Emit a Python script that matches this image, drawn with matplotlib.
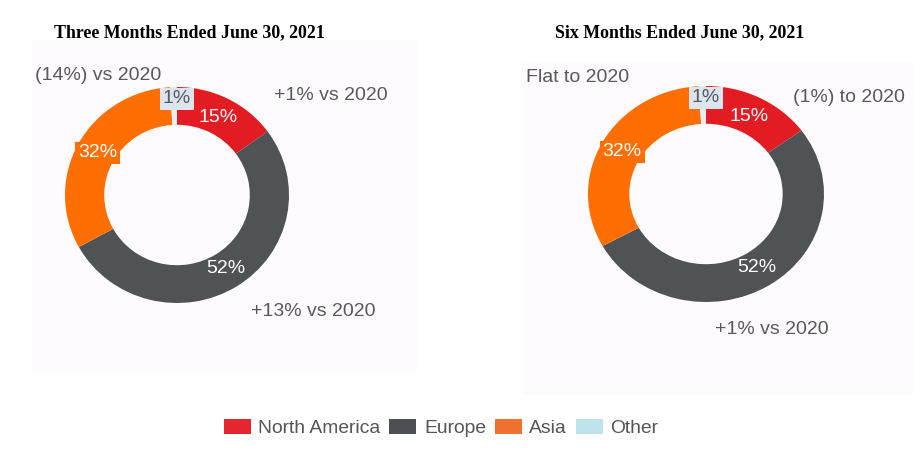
import matplotlib

matplotlib.use("Agg")
import matplotlib.pyplot as plt
from matplotlib.patches import Patch, Rectangle

# data
regions = ["North America", "Europe", "Asia", "Other"]
three_months = [15, 52, 32, 1]
six_months = [15, 52, 32, 1]
three_months_notes = ["+1% vs 2020", "+13% vs 2020", "(14%) vs 2020"]
six_months_notes = ["(1%) to 2020", "+1% vs 2020", "Flat to 2020"]
titles = ["Three Months Ended June 30, 2021", "Six Months Ended June 30, 2021"]

wedge_colors = ["#e31b23", "#505356", "#ff6e00", "#e6eff4"]
legend_colors = ["#e5262e", "#4c5054", "#f07030", "#bfe3ea"]
label_boxes = [None, None, "#ff6e00", "#dce4ee"]
label_colors = ["white", "white", "white", "#555a60"]

W, H = 919, 450
GRAY = "#595959"


def fx(px):
    return px / W


def fy(py):
    return 1 - py / H


def donut(fig, box, values):
    # box = (left, top, width, height) in pixels
    left, top, w, h = box
    ax = fig.add_axes([fx(left), fy(top + h), w / W, h / H])
    wedges, texts, autotexts = ax.pie(
        values,
        colors=wedge_colors,
        startangle=90,
        counterclock=False,
        radius=1,
        autopct="%d%%",
        pctdistance=0.81,
        wedgeprops=dict(width=0.35, edgecolor="none"),
        textprops=dict(fontsize=14, family="Liberation Sans"),
    )
    for i, t in enumerate(autotexts):
        t.set_color(label_colors[i])
        if label_boxes[i]:
            t.set_bbox(dict(facecolor=label_boxes[i], edgecolor="none", pad=2))
    # the 1% label sits on the rim
    autotexts[3].set_position((0, 0.89))
    ax.set_aspect("auto")
    ax.set_xlim(-1, 1)
    ax.set_ylim(-1, 1)
    ax.axis("off")
    return ax


def main():
    plt.rcParams["font.family"] = ["Liberation Sans", "DejaVu Sans"]
    fig = plt.figure(figsize=(W / 100, H / 100), dpi=100)
    fig.patch.set_facecolor("white")

    # faint panel backgrounds
    for (l, t, r, b) in [(32, 40, 417, 372), (522, 63, 913, 395)]:
        fig.patches.append(
            Rectangle((fx(l), fy(b)), (r - l) / W, (b - t) / H,
                      transform=fig.transFigure, facecolor="#fdfbfd",
                      edgecolor="none", zorder=-5)
        )

    donut(fig, (65, 87, 224, 216), three_months)
    donut(fig, (588, 86, 236, 216), six_months)

    for x, txt in zip([189, 680], titles):
        fig.text(fx(x), fy(33), txt, ha="center", va="center",
                 family="Liberation Serif", weight="bold", fontsize=12.9)

    note_pos_left = [(331, 96), (313, 311), (98, 76)]
    note_pos_right = [(849, 97), (772, 330), (578, 78)]
    for notes, pos in [(three_months_notes, note_pos_left),
                       (six_months_notes, note_pos_right)]:
        for txt, (x, y) in zip(notes, pos):
            fig.text(fx(x), fy(y), txt, ha="center", va="center",
                     color=GRAY, fontsize=14)

    handles = [Patch(facecolor=c, edgecolor="none") for c in legend_colors]
    leg = fig.legend(handles, regions, loc="center", ncol=4,
                     bbox_to_anchor=(fx(441), fy(428)), frameon=False,
                     fontsize=13.9, handlelength=1.4, handleheight=0.85,
                     handletextpad=0.4, columnspacing=0.45)
    for t in leg.get_texts():
        t.set_color("#555555")

    fig.savefig("out.png", dpi=100)


if __name__ == "__main__":
    main()
